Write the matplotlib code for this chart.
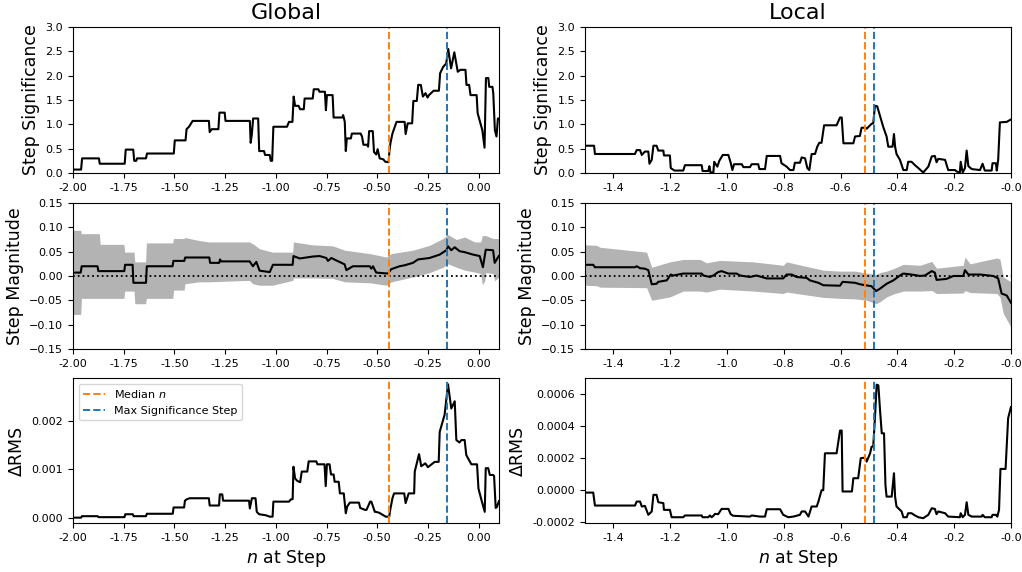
import numpy as np
import matplotlib
matplotlib.use('Agg')
import matplotlib.pyplot as plt

# ---- Global column ----
glob_sig_x = [-2.000, -1.960, -1.955, -1.872, -1.868, -1.745, -1.740, -1.703, -1.698, -1.688, -1.684, -1.640,
              -1.635, -1.503, -1.498, -1.445, -1.440, -1.428, -1.410, -1.330, -1.326, -1.316, -1.283, -1.278,
              -1.252, -1.248, -1.128, -1.124, -1.118, -1.112, -1.087, -1.082, -1.058, -1.053, -1.030, -1.025,
              -1.018, -1.012, -0.945, -0.935, -0.918, -0.912, -0.905, -0.888, -0.880, -0.862, -0.858, -0.818,
              -0.813, -0.790, -0.785, -0.758, -0.753, -0.748, -0.720, -0.715, -0.672, -0.668, -0.660, -0.655,
              -0.650, -0.630, -0.625, -0.582, -0.575, -0.568, -0.550, -0.545, -0.540, -0.522, -0.516, -0.505,
              -0.498, -0.488, -0.470, -0.460, -0.444, -0.440, -0.435, -0.425, -0.405, -0.365, -0.360, -0.350,
              -0.328, -0.322, -0.305, -0.298, -0.285, -0.275, -0.262, -0.252, -0.245, -0.222, -0.212, -0.196,
              -0.190, -0.175, -0.160, -0.150, -0.136, -0.120, -0.103, -0.090, -0.065, -0.060, -0.047, -0.040,
              -0.010, -0.005, 0.018, 0.029, 0.036, 0.048, 0.052, 0.068, 0.072, 0.080, 0.088, 0.095, 0.100]
glob_sig_y = [0.07, 0.07, 0.30, 0.30, 0.19, 0.19, 0.48, 0.48, 0.25, 0.25, 0.30, 0.30,
              0.40, 0.40, 0.67, 0.67, 0.90, 0.95, 1.07, 1.07, 0.84, 0.90, 0.90, 1.24,
              1.24, 1.07, 1.07, 0.62, 0.80, 1.12, 1.12, 0.45, 0.45, 0.37, 0.37, 0.25,
              0.25, 0.95, 0.95, 1.05, 1.05, 1.57, 1.38, 1.38, 1.31, 1.31, 1.53, 1.53,
              1.72, 1.72, 1.67, 1.67, 1.29, 1.60, 1.60, 1.14, 1.14, 1.19, 1.05, 0.45,
              0.71, 0.71, 0.81, 0.81, 0.75, 0.58, 0.58, 0.54, 0.86, 0.86, 0.43, 0.38,
              0.49, 0.30, 0.28, 0.23, 0.22, 0.45, 0.61, 0.81, 1.05, 1.05, 0.80, 1.02,
              1.02, 1.48, 1.48, 1.81, 1.81, 1.57, 1.64, 1.55, 1.60, 1.69, 1.69, 1.69,
              2.05, 2.18, 2.25, 2.55, 2.15, 2.48, 2.08, 2.12, 2.12, 1.81, 1.81, 1.60,
              1.60, 1.23, 0.88, 0.52, 1.95, 1.95, 1.77, 1.77, 1.64, 0.88, 0.75, 1.12, 1.12]

glob_mag_x = [-2.000, -1.962, -1.957, -1.879, -1.875, -1.747, -1.743, -1.706, -1.702, -1.640, -1.636, -1.509,
              -1.505, -1.451, -1.447, -1.328, -1.324, -1.279, -1.275, -1.269, -1.129, -1.113, -1.096, -1.080,
              -1.030, -1.014, -0.917, -0.913, -0.882, -0.817, -0.784, -0.751, -0.743, -0.726, -0.702, -0.661,
              -0.652, -0.620, -0.537, -0.529, -0.521, -0.505, -0.447, -0.431, -0.390, -0.365, -0.324, -0.299,
              -0.242, -0.192, -0.159, -0.151, -0.135, -0.118, -0.094, -0.069, -0.028, 0.005, 0.021, 0.035,
              0.071, 0.079, 0.099]
glob_mag_y = [0.007, 0.007, 0.020, 0.020, 0.010, 0.010, 0.023, 0.023, -0.014, -0.014, 0.020, 0.020,
              0.031, 0.031, 0.038, 0.038, 0.027, 0.027, 0.034, 0.030, 0.030, 0.020, 0.029, 0.011,
              0.008, 0.023, 0.023, 0.041, 0.036, 0.040, 0.041, 0.037, 0.031, 0.037, 0.032, 0.024,
              0.012, 0.020, 0.020, 0.015, 0.020, 0.007, 0.005, 0.014, 0.020, 0.022, 0.027, 0.034,
              0.037, 0.044, 0.053, 0.061, 0.053, 0.059, 0.051, 0.049, 0.044, 0.041, 0.018, 0.054,
              0.053, 0.027, 0.041]

glob_band_x = [-2.000, -1.962, -1.958, -1.870, -1.866, -1.749, -1.745, -1.699, -1.695, -1.642, -1.638, -1.508,
               -1.504, -1.452, -1.448, -1.380, -1.330, -1.130, -1.113, -1.080, -1.016, -0.917, -0.913, -0.820,
               -0.720, -0.660, -0.537, -0.455, -0.430, -0.324, -0.242, -0.176, -0.151, -0.110, -0.069, -0.020,
               0.010, 0.018, 0.030, 0.035, 0.071, 0.079, 0.100]
glob_band_hi = [0.094, 0.094, 0.087, 0.087, 0.065, 0.065, 0.049, 0.049, 0.029, 0.029, 0.068, 0.068,
                0.077, 0.077, 0.079, 0.073, 0.070, 0.070, 0.066, 0.056, 0.049, 0.049, 0.070, 0.064,
                0.062, 0.053, 0.046, 0.039, 0.046, 0.053, 0.063, 0.077, 0.085, 0.075, 0.080, 0.070,
                0.070, 0.083, 0.083, 0.083, 0.077, 0.077, 0.077]
glob_band_lo = [-0.079, -0.079, -0.046, -0.046, -0.046, -0.046, -0.031, -0.031, -0.057, -0.057, -0.046, -0.046,
                -0.029, -0.029, -0.016, -0.012, -0.012, -0.009, -0.016, -0.019, -0.019, -0.009, -0.004, -0.004,
                -0.005, -0.012, -0.014, -0.019, -0.012, -0.002, 0.007, 0.018, 0.025, 0.018, 0.012, 0.008,
                0.005, -0.018, -0.010, 0.007, 0.005, -0.010, -0.002]

glob_rms_x = [-2.000, -1.960, -1.956, -1.878, -1.874, -1.746, -1.742, -1.705, -1.701, -1.640,
              -1.636, -1.508, -1.504, -1.452, -1.448, -1.438, -1.425, -1.330, -1.326, -1.280,
              -1.276, -1.264, -1.260, -1.132, -1.128, -1.118, -1.100, -1.094, -1.082, -1.050,
              -1.030, -1.016, -1.012, -0.935, -0.925, -0.917, -0.913, -0.905, -0.895, -0.880,
              -0.872, -0.845, -0.838, -0.800, -0.795, -0.760, -0.754, -0.748, -0.735, -0.728,
              -0.715, -0.710, -0.690, -0.684, -0.665, -0.655, -0.648, -0.635, -0.590, -0.584,
              -0.560, -0.553, -0.535, -0.529, -0.512, -0.507, -0.490, -0.470, -0.458, -0.441,
              -0.436, -0.425, -0.417, -0.367, -0.360, -0.345, -0.318, -0.315, -0.294, -0.283,
              -0.263, -0.250, -0.217, -0.197, -0.192, -0.168, -0.151, -0.135, -0.118, -0.110,
              -0.095, -0.085, -0.069, -0.061, -0.036, -0.008, -0.001, 0.014, 0.030, 0.035,
              0.047, 0.055, 0.071, 0.076, 0.084, 0.090, 0.100]
# in units of 1e-5
glob_rms_y = [0, 0, 3, 3, 1, 1, 7, 7, 3, 3,
              8, 8, 21, 21, 35, 38, 40, 40, 25, 25,
              48, 48, 35, 35, 19, 40, 40, 12, 7, 5,
              2, 2, 33, 33, 38, 38, 105, 81, 76, 73,
              95, 95, 116, 116, 110, 110, 65, 110, 110, 89,
              89, 74, 74, 50, 50, 9, 23, 31, 31, 20,
              16, 16, 33, 33, 12, 12, 10, 5, 2, 2,
              16, 40, 50, 50, 30, 50, 50, 95, 131, 106,
              112, 104, 115, 115, 177, 212, 275, 225, 240, 160,
              155, 160, 160, 129, 110, 110, 60, 36, 12, 102,
              102, 88, 88, 86, 20, 22, 34]

glob_median = -0.442
glob_maxsig = -0.155

# ---- Local column ----
loc_sig_x = [-1.500, -1.468, -1.465, -1.324, -1.318, -1.306, -1.300, -1.289, -1.277, -1.273, -1.265, -1.259,
             -1.248, -1.242, -1.224, -1.222, -1.201, -1.198, -1.185, -1.154, -1.148, -1.089, -1.086, -1.066,
             -1.062, -1.058, -1.048, -1.045, -1.034, -1.027, -1.015, -0.995, -0.987, -0.981, -0.975, -0.948,
             -0.942, -0.919, -0.913, -0.890, -0.886, -0.866, -0.860, -0.813, -0.808, -0.790, -0.778, -0.766,
             -0.761, -0.743, -0.737, -0.725, -0.717, -0.710, -0.702, -0.690, -0.682, -0.675, -0.667, -0.658,
             -0.614, -0.602, -0.596, -0.590, -0.555, -0.549, -0.532, -0.526, -0.512, -0.508, -0.491, -0.485,
             -0.479, -0.471, -0.461, -0.450, -0.438, -0.432, -0.417, -0.412, -0.408, -0.403, -0.391, -0.379,
             -0.367, -0.362, -0.350, -0.338, -0.326, -0.309, -0.291, -0.279, -0.268, -0.262, -0.256, -0.232,
             -0.221, -0.197, -0.191, -0.180, -0.177, -0.170, -0.162, -0.156, -0.150, -0.138, -0.109, -0.100,
             -0.092, -0.068, -0.065, -0.053, -0.050, -0.045, -0.039, -0.015, 0.000]
loc_sig_y = [0.56, 0.56, 0.39, 0.39, 0.47, 0.47, 0.37, 0.44, 0.44, 0.19, 0.27, 0.56,
             0.56, 0.46, 0.46, 0.36, 0.36, 0.10, 0.05, 0.05, 0.16, 0.16, 0.04, 0.04,
             0.14, 0.01, 0.01, 0.23, 0.13, 0.25, 0.37, 0.37, 0.21, 0.06, 0.18, 0.18,
             0.12, 0.12, 0.18, 0.18, 0.08, 0.08, 0.35, 0.35, 0.20, 0.13, 0.06, 0.06,
             0.21, 0.21, 0.32, 0.30, 0.10, 0.06, 0.39, 0.39, 0.54, 0.62, 0.62, 0.98,
             0.98, 1.14, 1.14, 0.61, 0.61, 0.75, 0.76, 0.93, 0.93, 0.91, 1.01, 1.02,
             1.38, 1.37, 1.17, 0.95, 0.75, 0.54, 0.54, 0.80, 0.54, 0.39, 0.27, 0.06,
             0.06, 0.23, 0.23, 0.16, 0.10, 0.01, 0.13, 0.34, 0.35, 0.22, 0.29, 0.27,
             0.06, 0.06, 0.03, 0.01, 0.23, 0.01, 0.10, 0.46, 0.14, 0.08, 0.06, 0.19,
             0.05, 0.05, 0.20, 0.20, 0.05, 0.27, 1.04, 1.05, 1.10]

loc_mag_x = [-1.500, -1.471, -1.465, -1.324, -1.318, -1.306, -1.289, -1.277, -1.265, -1.248, -1.242, -1.212,
             -1.198, -1.189, -1.154, -1.089, -1.083, -1.060, -1.048, -1.031, -1.019, -0.995, -0.966, -0.954,
             -0.919, -0.896, -0.860, -0.802, -0.790, -0.772, -0.755, -0.719, -0.708, -0.696, -0.678, -0.661,
             -0.602, -0.593, -0.549, -0.532, -0.512, -0.491, -0.475, -0.461, -0.438, -0.414, -0.391, -0.379,
             -0.350, -0.320, -0.303, -0.279, -0.268, -0.262, -0.227, -0.203, -0.168, -0.162, -0.150, -0.109,
             -0.062, -0.045, -0.033, -0.015, 0.000]
loc_mag_y = [0.023, 0.023, 0.018, 0.018, 0.020, 0.016, 0.015, 0.012, -0.017, -0.016, -0.012, -0.009,
             0.003, 0.001, 0.005, 0.005, 0.001, -0.002, 0.001, 0.008, 0.010, 0.005, 0.005, 0.001,
             -0.002, 0.001, -0.005, -0.005, 0.003, 0.003, -0.002, -0.004, -0.009, -0.011, -0.014, -0.019,
             -0.020, -0.012, -0.014, -0.017, -0.019, -0.021, -0.031, -0.026, -0.016, -0.009, 0.001, 0.005,
             0.003, 0.000, 0.001, 0.010, 0.007, -0.008, -0.006, 0.000, 0.000, 0.012, 0.003, 0.003,
             0.000, -0.005, -0.036, -0.040, -0.055]

loc_band_x = [-1.500, -1.459, -1.447, -1.283, -1.265, -1.201, -1.154, -1.095, -1.072, -1.025, -0.907, -0.802,
              -0.790, -0.708, -0.661, -0.602, -0.549, -0.508, -0.475, -0.461, -0.438, -0.414, -0.379, -0.320,
              -0.279, -0.262, -0.168, -0.162, -0.144, -0.050, -0.039, -0.027, 0.000]
loc_band_hi = [0.064, 0.063, 0.059, 0.049, 0.018, 0.029, 0.034, 0.034, 0.027, 0.032, 0.029, 0.022,
               0.029, 0.018, 0.012, 0.010, 0.010, 0.006, 0.003, 0.007, 0.010, 0.015, 0.024, 0.022,
               0.030, 0.016, 0.022, 0.039, 0.025, 0.037, 0.035, -0.002, -0.012]
loc_band_lo = [-0.019, -0.020, -0.023, -0.024, -0.050, -0.043, -0.031, -0.031, -0.033, -0.027, -0.031, -0.036,
               -0.033, -0.040, -0.044, -0.046, -0.047, -0.050, -0.057, -0.053, -0.043, -0.037, -0.031, -0.031,
               -0.030, -0.036, -0.035, -0.030, -0.034, -0.036, -0.043, -0.077, -0.105]

loc_rms_x = [-1.500, -1.471, -1.465, -1.324, -1.318, -1.306, -1.300, -1.289, -1.277, -1.265, -1.259, -1.248,
             -1.242, -1.224, -1.222, -1.201, -1.195, -1.154, -1.148, -1.089, -1.086, -1.066, -1.060, -1.054,
             -1.048, -1.042, -1.031, -1.019, -0.995, -0.987, -0.978, -0.919, -0.913, -0.884, -0.866, -0.860,
             -0.813, -0.802, -0.784, -0.766, -0.743, -0.737, -0.725, -0.713, -0.702, -0.684, -0.678, -0.667,
             -0.661, -0.655, -0.614, -0.602, -0.596, -0.593, -0.560, -0.555, -0.538, -0.529, -0.514, -0.508,
             -0.496, -0.491, -0.485, -0.479, -0.473, -0.467, -0.461, -0.455, -0.447, -0.442, -0.438, -0.420,
             -0.412, -0.408, -0.403, -0.385, -0.379, -0.367, -0.362, -0.350, -0.338, -0.326, -0.309, -0.291,
             -0.279, -0.268, -0.262, -0.256, -0.232, -0.221, -0.180, -0.177, -0.170, -0.162, -0.156, -0.150,
             -0.138, -0.103, -0.100, -0.092, -0.068, -0.065, -0.053, -0.048, -0.042, -0.037, -0.019, -0.010, 0.000]
loc_rms_y = [-0.000015, -0.000015, -0.000096, -0.000096, -0.000071, -0.000071, -0.000102, -0.000098, -0.000154,
             -0.000133, -0.000029, -0.000029, -0.000075, -0.000081, -0.000123, -0.000123, -0.000169, -0.000169,
             -0.000158, -0.000158, -0.000169, -0.000169, -0.000158, -0.000169, -0.000160, -0.000148, -0.000150,
             -0.000117, -0.000117, -0.000150, -0.000160, -0.000165, -0.000158, -0.000165, -0.000165, -0.000119,
             -0.000119, -0.000154, -0.000169, -0.000165, -0.000154, -0.000133, -0.000133, -0.000165, -0.000102,
             -0.000102, -0.000071, 0.000000, 0.000000, 0.000231, 0.000231, 0.000373, 0.000373, -0.000008,
             -0.000008, 0.000075, 0.000075, 0.000200, 0.000204, 0.000179, 0.000231, 0.000271, 0.000275,
             0.000450, 0.000660, 0.000656, 0.000500, 0.000356, 0.000356, 0.000033, -0.000040, -0.000040,
             0.000106, -0.000040, -0.000102, -0.000133, -0.000169, -0.000169, -0.000144, -0.000144, -0.000158,
             -0.000169, -0.000175, -0.000154, -0.000113, -0.000117, -0.000150, -0.000133, -0.000144, -0.000165,
             -0.000169, -0.000144, -0.000169, -0.000154, -0.000075, -0.000154, -0.000165, -0.000165, -0.000154,
             -0.000169, -0.000169, -0.000154, -0.000154, -0.000165, -0.000123, 0.000133, 0.000133, 0.000450,
             0.000520]

loc_median = -0.513
loc_maxsig = -0.482

fig = plt.figure(figsize=(10.22, 5.72), dpi=100)
lefts = [0.0714, 0.5724]
bottoms = [0.6976, 0.3899, 0.0857]
heights = [0.2552, 0.2552, 0.2535]
w = 0.4168

axs = [[fig.add_axes([lefts[c], bottoms[r], w, heights[r]]) for c in range(2)] for r in range(3)]

cols = [
    dict(sig=(glob_sig_x, glob_sig_y), mag=(glob_mag_x, glob_mag_y),
         band=(glob_band_x, glob_band_hi, glob_band_lo),
         rms=(glob_rms_x, np.array(glob_rms_y) * 1e-5),
         med=glob_median, mx=glob_maxsig, xlim=(-2.0, 0.1), xt=np.arange(-2.0, 0.01, 0.25),
         fmt='%.2f', rmsylim=(-0.00011, 0.00288), title='Global'),
    dict(sig=(loc_sig_x, loc_sig_y), mag=(loc_mag_x, loc_mag_y),
         band=(loc_band_x, loc_band_hi, loc_band_lo), rms=(loc_rms_x, loc_rms_y),
         med=loc_median, mx=loc_maxsig, xlim=(-1.5, 0.0), xt=np.arange(-1.4, 0.01, 0.2),
         fmt='%.1f', rmsylim=(-0.000205, 0.000702), title='Local'),
]

for c, d in enumerate(cols):
    a0, a1, a2 = axs[0][c], axs[1][c], axs[2][c]
    a0.plot(*d['sig'], color='k', lw=1.5)
    a0.set_ylim(0, 3.0)
    a0.set_yticks(np.arange(0, 3.01, 0.5))
    a0.set_ylabel('Step Significance', fontsize=12.5)
    a0.set_title(d['title'], fontsize=16)

    bx, bh, bl = d['band']
    a1.fill_between(bx, bl, bh, color='0.7', lw=0)
    a1.plot(*d['mag'], color='k', lw=1.5)
    a1.axhline(0, color='k', ls=':', lw=1.3)
    a1.set_ylim(-0.15, 0.15)
    a1.set_yticks(np.arange(-0.15, 0.151, 0.05))
    a1.set_ylabel('Step Magnitude', fontsize=12.5)

    a2.plot(*d['rms'], color='k', lw=1.5)
    a2.set_ylim(*d['rmsylim'])
    a2.set_ylabel('ΔRMS', fontsize=12.5)
    a2.set_xlabel('$n$ at Step', fontsize=12.5)

    for ax in (a0, a1, a2):
        ax.axvline(d['med'], color='tab:orange', ls='--', lw=1.4, label='Median $n$')
        ax.axvline(d['mx'], color='tab:blue', ls='--', lw=1.4, label='Max Significance Step')
        ax.set_xlim(*d['xlim'])
        ax.set_xticks(d['xt'])
        ax.xaxis.set_major_formatter(matplotlib.ticker.FormatStrFormatter(d['fmt']))
        ax.tick_params(labelsize=8)

    if c == 0:
        a2.set_yticks([0.0, 0.001, 0.002])
        a2.yaxis.set_major_formatter(matplotlib.ticker.FormatStrFormatter('%.3f'))
        a2.legend(loc='upper left', fontsize=8)
    else:
        a2.set_yticks([-0.0002, 0.0, 0.0002, 0.0004, 0.0006])
        a2.yaxis.set_major_formatter(matplotlib.ticker.FormatStrFormatter('%.4f'))

fig.savefig('out.png', dpi=100)
